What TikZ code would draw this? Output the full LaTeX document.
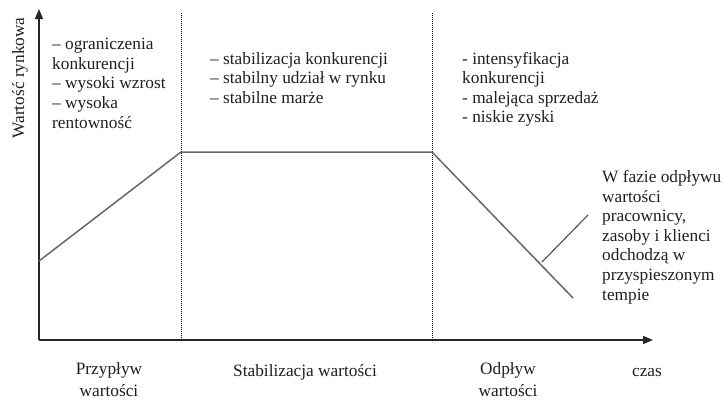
\documentclass[tikz,border=0pt]{standalone}
\usepackage{fontspec}
\setmainfont{Liberation Serif}
\usetikzlibrary{arrows.meta}
\begin{document}
\begin{tikzpicture}[x=1pt,y=-1pt,
  txt/.style={inner sep=0pt,align=left,anchor=base west,text=black!88,
    font=\fontsize{17.3}{19.6}\selectfont},
  lbl/.style={inner sep=0pt,align=center,anchor=base,text=black!88,
    font=\fontsize{17.3}{21.5}\selectfont},
  axis/.style={line width=1.4pt,black!85,-{Triangle[length=10pt,width=8pt]}},
  phase/.style={line width=0.8pt,black,dash pattern=on 1pt off 1pt},
  curve/.style={line width=1.5pt,black!60},
  pointer/.style={line width=1.1pt,black!70}]
\useasboundingbox (0,0) rectangle (724,400);
% axes
\coordinate (O) at (39,340);
\coordinate (Ytop) at (39,9);
\coordinate (Xend) at (653,340);
\draw[axis] (O) -- (Ytop);
\draw[axis] (O) -- (Xend);
% phase separators
\coordinate (d1t) at (181,13);
\coordinate (d1b) at (181,340);
\coordinate (d2t) at (432,13);
\coordinate (d2b) at (432,340);
\draw[phase] (d1t) -- (d1b);
\draw[phase] (d2t) -- (d2b);
% value curve
\coordinate (c0) at (39,261);
\coordinate (c1) at (181,152);
\coordinate (c2) at (432,152);
\coordinate (c3) at (573,298);
\draw[curve] (c0) -- (c1) -- (c2) -- (c3);
% pointer
\coordinate (p0) at (542,262);
\coordinate (p1) at (588,215);
\draw[pointer] (p0) -- (p1);
% axis label
\node[inner sep=0pt,rotate=90,anchor=base,text=black!88,font=\fontsize{17.3}{20}\selectfont] (ylab) at (24,78) {Wartość rynkowa};
% phase texts (anchor = baseline of last line)
\node[txt] (t1) at (52,128) {– ograniczenia\\konkurencji\\– wysoki wzrost\\– wysoka\\rentowność};
\node[txt] (t2) at (210,103.2) {– stabilizacja konkurencji\\– stabilny udział w rynku\\– stabilne marże};
\node[txt] (t3) at (462,122.8) {- intensyfikacja\\konkurencji\\- malejąca sprzedaż\\- niskie zyski};
\node[txt] (note) at (602,300) {W fazie odpływu\\wartości\\pracownicy,\\zasoby i klienci\\odchodzą w\\przyspieszonym\\tempie};
% bottom labels
\node[lbl] (b1) at (109,396) {Przypływ\\wartości};
\node[lbl] (b2) at (305,376) {Stabilizacja wartości};
\node[lbl] (b3) at (508,396) {Odpływ\\wartości};
\node[lbl] (b4) at (647,376) {czas};
\end{tikzpicture}
\end{document}
